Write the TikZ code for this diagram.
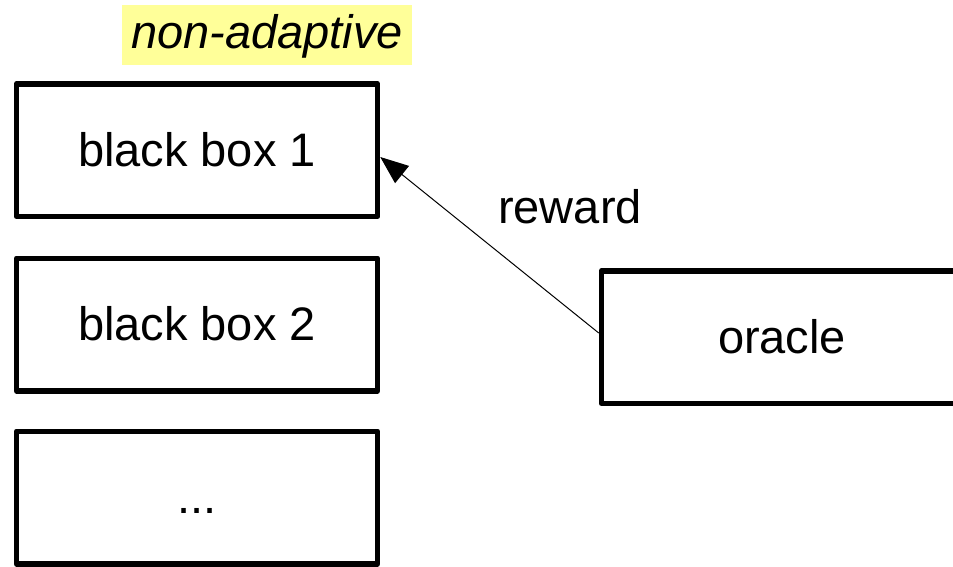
\documentclass[tikz,border=0pt]{standalone}
\usepackage{fontspec}
\setmainfont{Liberation Sans}
\usetikzlibrary{arrows.meta}
\definecolor{hilite}{HTML}{FFFF99}
\tikzset{
  bbox/.style={draw=black, line width=5.5pt, line join=round, minimum width=361pt, minimum height=132.5pt,
    inner sep=0pt, text height=38pt, text depth=6pt, font=\fontsize{47}{56}\selectfont},
  lbl/.style={inner sep=0pt, font=\fontsize{47}{56}\selectfont},
}
\begin{document}
\begin{tikzpicture}[x=1pt,y=-1pt]
\useasboundingbox (0,0) rectangle (953,566);
\node[fill=hilite, minimum width=290pt, minimum height=60pt, inner sep=0pt, text height=32pt, text depth=6pt,
  font=\fontsize{47}{56}\selectfont\itshape] (hl) at (267,35) {non-adaptive};
\node[bbox] (box1) at (197,150) {black box 1};
\node[bbox] (box2) at (197,324.5) {black box 2};
\node[bbox] (box3) at (197,497.5) {...};
\node[bbox] (oracle) at (782,337) {oracle};
\node[lbl] (rw) at (570,207) {reward};
\draw[line width=1pt, -{Triangle[length=28pt,width=22pt]}] ([yshift=4pt]oracle.west) -- ([yshift=-7pt]box1.east);
\end{tikzpicture}
\end{document}
